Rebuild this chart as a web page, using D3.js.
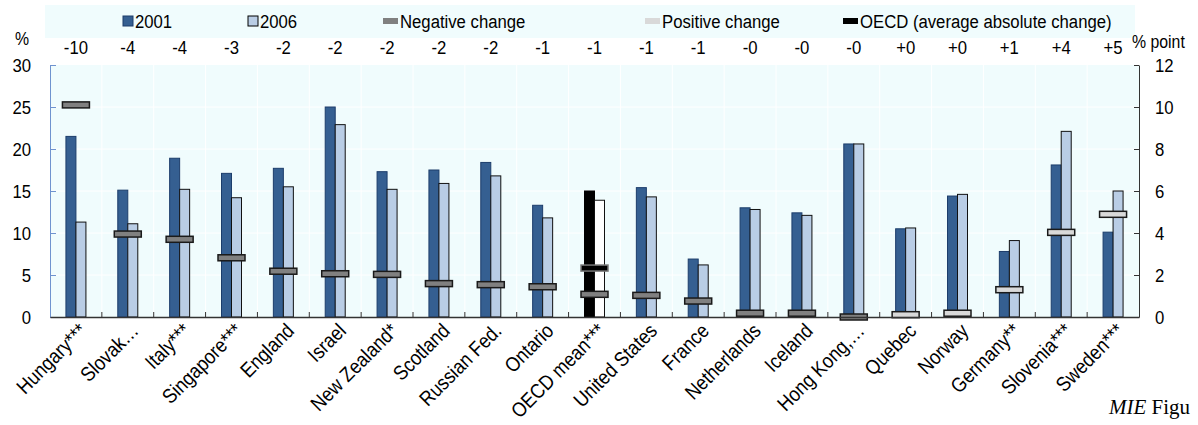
<!DOCTYPE html>
<html>
<head>
<meta charset="utf-8">
<script src="https://cdn.jsdelivr.net/npm/d3@7"></script>
<style>
  html, body { margin: 0; padding: 0; background: #ffffff; }
  svg text { font-family: "Liberation Sans Narrow", "Arial Narrow", "Liberation Sans", Arial, sans-serif; fill: #000; }
  .mie text { font-family: "Liberation Serif", "DejaVu Serif", serif; }
</style>
</head>
<body>
<div id="chart"></div>
<script>
(function () {

    var categories = ["Hungary***", "Slovak…", "Italy***", "Singapore***", "England", "Israel",
        "New Zealand*", "Scotland", "Russian Fed.", "Ontario", "OECD mean***", "United States",
        "France", "Netherlands", "Iceland", "Hong Kong,…", "Quebec", "Norway", "Germany**",
        "Slovenia***", "Sweden***"];

    var v2001 = [21.5, 15.1, 18.9, 17.1, 17.7, 25.0, 17.3, 17.5, 18.4, 13.3, 15.0, 15.4,
                 6.9, 13.0, 12.4, 20.6, 10.5, 14.4, 7.8, 18.1, 10.1];
    var v2006 = [11.3, 11.1, 15.2, 14.2, 15.5, 22.9, 15.2, 15.9, 16.8, 11.8, 13.9, 14.3,
                 6.2, 12.8, 12.1, 20.6, 10.6, 14.6, 9.1, 22.1, 15.0];

    // size of change in % points (right axis) and its sign
    var change     = [10.1, 3.95, 3.7, 2.82, 2.18, 2.06, 2.03, 1.59, 1.54, 1.44, 1.08, 1.03,
                      0.76, 0.18, 0.18, 0.0, 0.11, 0.18, 1.3, 4.03, 4.89];
    var changeSign = ["-", "-", "-", "-", "-", "-", "-", "-", "-", "-", "-", "-",
                      "-", "-", "-", "-", "+", "+", "+", "+", "+"];
    var topLabels  = ["-10", "-4", "-4", "-3", "-2", "-2", "-2", "-2", "-2", "-1", "-1", "-1",
                      "-1", "-0", "-0", "-0", "+0", "+0", "+1", "+4", "+5"];

    var OECD_NAME = "OECD mean***";
    var oecdAbsChange = 2.33;

    var leftTicks  = [0, 5, 10, 15, 20, 25, 30];
    var rightTicks = [0, 2, 4, 6, 8, 10, 12];

    var legendItems = [
        { label: "2001", kind: "box", fill: "#355f91", stroke: "#1c3d6b", x: 123 },
        { label: "2006", kind: "box", fill: "#b9cde5", stroke: "#000", x: 248 },
        { label: "Negative change", kind: "bar", fill: "#808080", x: 383 },
        { label: "Positive change", kind: "bar", fill: "#d9d9d9", x: 645 },
        { label: "OECD (average absolute change)", kind: "bar", fill: "#000", x: 843 }
    ];

    var W = 1198, H = 425;
    var margin = { top: 65, right: 59, bottom: 108, left: 50 };
    var iW = W - margin.left - margin.right;
    var iH = H - margin.top - margin.bottom;
    var SQUEEZE = 0.88; // narrow-font look

    // condensed text: translate, (rotate), squeeze
    function narrow(parent, px, py, txt, size, anchor, rot) {
        var g = parent.append("g")
            .attr("transform", "translate(" + px + "," + py + ")" +
                (rot ? " rotate(" + rot + ")" : "") + " scale(" + SQUEEZE + ",1)");
        return g.append("text")
            .attr("text-anchor", anchor || "start")
            .attr("dy", "0.35em")
            .style("font-size", size + "px")
            .text(txt);
    }

    var svgRoot = d3.select("#chart").append("svg")
        .attr("width", W).attr("height", H);

    // legend background
    svgRoot.append("rect")
        .attr("x", 45).attr("y", 5)
        .attr("width", 1090).attr("height", 33)
        .attr("fill", "#f0fcfd");

    var svg = svgRoot.append("g")
        .attr("transform", "translate(" + margin.left + "," + margin.top + ")");

    /* scales */
    var x = d3.scaleBand().domain(categories).range([0, iW]);
    var yL = d3.scaleLinear().domain([0, 30]).range([iH, 0]);
    var yR = d3.scaleLinear().domain([0, 12]).range([iH, 0]);
    var cx = function (d) { return x(d) + x.bandwidth() / 2; };

    var barW = 10;

    // plot background + grid
    svg.append("rect")
        .attr("width", iW).attr("height", iH)
        .attr("fill", "#f0fcfd");

    svg.selectAll(".hgrid").data(leftTicks.slice(1, -1)).enter().append("line")
        .attr("x1", 0).attr("x2", iW)
        .attr("y1", function (d) { return yL(d); })
        .attr("y2", function (d) { return yL(d); })
        .attr("stroke", "#ffffff").attr("stroke-width", 1);

    svg.selectAll(".vgrid").data(categories.slice(1)).enter().append("line")
        .attr("x1", function (d) { return x(d); })
        .attr("x2", function (d) { return x(d); })
        .attr("y1", 0).attr("y2", iH)
        .attr("stroke", "#ffffff").attr("stroke-width", 1);

    /* bars */
    svg.selectAll(".b2001").data(categories).enter().append("rect")
        .attr("x", function (d) { return cx(d) - barW; })
        .attr("y", function (d, i) { return yL(v2001[i]); })
        .attr("width", barW)
        .attr("height", function (d, i) { return iH - yL(v2001[i]); })
        .attr("fill", function (d) { return d === OECD_NAME ? "#000" : "#355f91"; })
        .attr("stroke", function (d) { return d === OECD_NAME ? "#000" : "#1c3d6b"; })
        .attr("stroke-width", 1);

    svg.selectAll(".b2006").data(categories).enter().append("rect")
        .attr("x", function (d) { return cx(d); })
        .attr("y", function (d, i) { return yL(v2006[i]); })
        .attr("width", barW)
        .attr("height", function (d, i) { return iH - yL(v2006[i]); })
        .attr("fill", function (d) { return d === OECD_NAME ? "#fff" : "#b9cde5"; })
        .attr("stroke", "#111")
        .attr("stroke-width", 1);

    /* change markers */
    var mW = 27, mH = 6;
    svg.selectAll(".mk").data(categories).enter().append("rect")
        .attr("x", function (d) { return cx(d) - mW / 2; })
        .attr("y", function (d, i) { return yR(change[i]) - mH / 2; })
        .attr("width", mW).attr("height", mH)
        .attr("fill", function (d, i) { return changeSign[i] === "+" ? "#d9d9d9" : "#808080"; })
        .attr("stroke", "#1a1a1a").attr("stroke-width", 1.5);

    svg.append("rect")
        .attr("x", cx(OECD_NAME) - mW / 2)
        .attr("y", yR(oecdAbsChange) - mH / 2)
        .attr("width", mW).attr("height", mH)
        .attr("fill", "#000")
        .attr("stroke", "#777").attr("stroke-width", 1.5);

    /* axes */
    var axL = svg.append("g")
        .call(d3.axisLeft(yL).tickValues(leftTicks).tickSize(-6).tickFormat("").tickSizeOuter(0));
    axL.selectAll("path, line").attr("stroke", "#6f93cf");

    var axR = svg.append("g")
        .attr("transform", "translate(" + iW + ",0)")
        .call(d3.axisRight(yR).tickValues(rightTicks).tickSize(-5).tickFormat("").tickSizeOuter(0));
    axR.selectAll("path, line").attr("stroke", "#333");

    var axB = svg.append("g")
        .attr("transform", "translate(0," + iH + ")")
        .call(d3.axisBottom(x).tickSize(0).tickFormat(""));
    axB.select("path").attr("stroke", "#333").attr("stroke-width", 1.5);

    svg.selectAll(".btick").data(categories.slice(1)).enter().append("line")
        .attr("x1", function (d) { return x(d); })
        .attr("x2", function (d) { return x(d); })
        .attr("y1", iH - 5).attr("y2", iH)
        .attr("stroke", "#333");

    // tick labels
    leftTicks.forEach(function (t) { narrow(svg, -19, yL(t), t, 19, "end"); });
    rightTicks.forEach(function (t) { narrow(svg, iW + 16, yR(t), t, 19, "start"); });

    // category labels
    categories.forEach(function (d) {
        narrow(svg, cx(d) + 7, iH + 10, d, 20.5, "end", -45);
    });

    // change labels above the plot
    categories.forEach(function (d, i) {
        narrow(svg, cx(d), -18, topLabels[i], 19, "middle");
    });

    // unit labels
    narrow(svgRoot, 22, 39, "%", 18, "middle");
    narrow(svgRoot, 1132, 42, "% point", 18, "start");

    /* legend */
    var lg = svgRoot.append("g").attr("transform", "translate(0,21)");
    legendItems.forEach(function (d) {
        var g = lg.append("g").attr("transform", "translate(" + d.x + ",0)");
        if (d.kind === "box") {
            g.append("rect")
                .attr("x", 0).attr("y", -5).attr("width", 10).attr("height", 10)
                .attr("fill", d.fill).attr("stroke", d.stroke).attr("stroke-width", 1);
        } else {
            g.append("rect")
                .attr("x", 0).attr("y", -3).attr("width", 15).attr("height", 6)
                .attr("fill", d.fill);
        }
        narrow(g, d.kind === "box" ? 12 : 17, 0, d.label, 19, "start");
    });

    // source note (only this part is visible in the figure)
    var note = svgRoot.append("g").attr("class", "mie")
        .append("text")
        .attr("x", 1109).attr("y", 414)
        .style("font-size", "21px");
    note.append("tspan").style("font-style", "italic").text("MIE");
    note.append("tspan").text(" Figu");

}());
</script>
</body>
</html>
